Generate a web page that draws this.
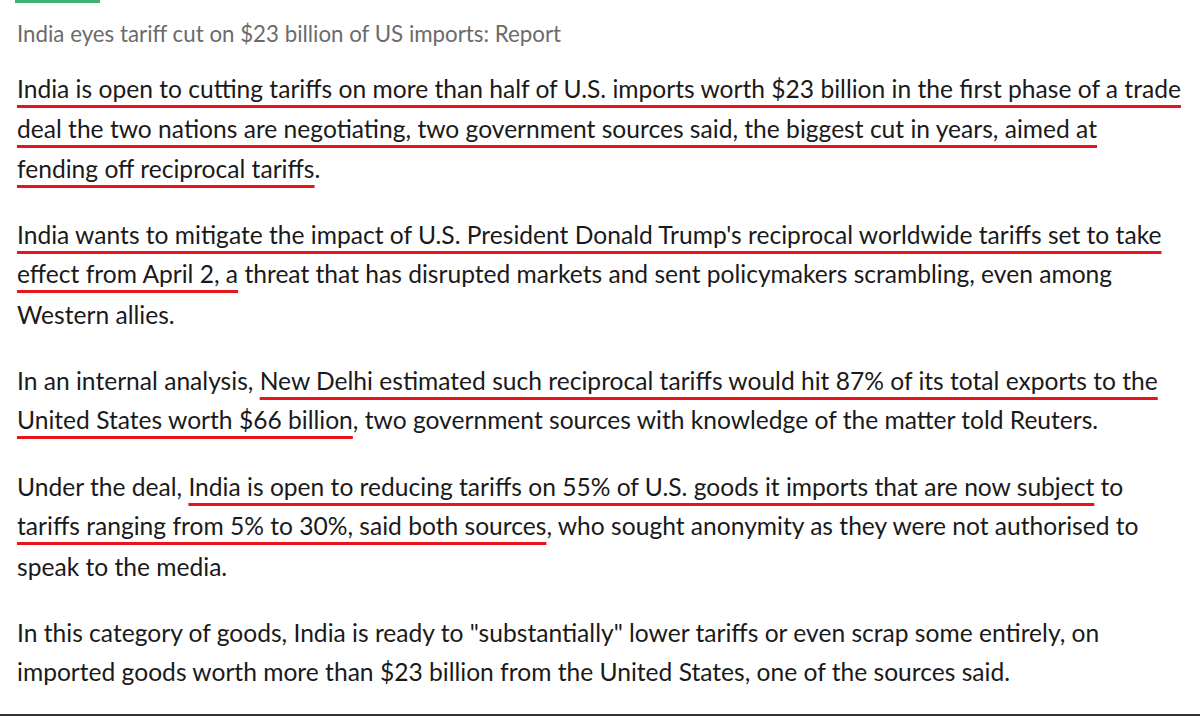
<!DOCTYPE html>
<html><head><meta charset="utf-8">
<script src="https://cdn.jsdelivr.net/npm/chart.js@4"></script>
<style>
html,body{margin:0;padding:0;background:#fff;width:1200px;height:718px;overflow:hidden;font-family:Lato,"Open Sans",sans-serif;}
.l{position:absolute;left:17px;white-space:nowrap;font-size:24.6px;color:#1a1a1a;line-height:30px;}
.t{position:absolute;left:17px;top:20px;font-size:22.3px;color:#6b6b6b;white-space:nowrap;}
.u{text-decoration:underline;text-decoration-color:#e8141c;text-decoration-thickness:3px;text-underline-offset:7px;text-decoration-skip-ink:none;}
#g{position:absolute;left:15px;top:0;width:85px;height:3px;background:#3cb371;}
#b{position:absolute;left:0;top:714px;width:1200px;height:2px;background:#333;}
</style></head><body>
<div id="g"></div>
<div class="t">India eyes tariff cut on $23 billion of US imports: Report</div>
<div id="text"></div>
<div id="b"></div>
<script>
const lines = [
 [74, '<span class="u">India is open to cutting tariffs on more than half of U.S. imports worth $23 billion in the first phase of a trade</span>'],
 [114, '<span class="u">deal the two nations are negotiating, two government sources said, the biggest cut in years, aimed at</span>'],
 [154, '<span class="u">fending off reciprocal tariffs</span>.'],
 [220, '<span class="u">India wants to mitigate the impact of U.S. President Donald Trump\'s reciprocal worldwide tariffs set to take</span>'],
 [259, '<span class="u">effect from April 2, a</span> threat that has disrupted markets and sent policymakers scrambling, even among'],
 [300, 'Western allies.'],
 [366, 'In an internal analysis, <span class="u">New Delhi estimated such reciprocal tariffs would hit 87% of its total exports to the</span>'],
 [405, '<span class="u">United States worth $66 billion</span>, two government sources with knowledge of the matter told Reuters.'],
 [472, 'Under the deal, <span class="u">India is open to reducing tariffs on 55% of U.S. goods it imports that are now subject</span> to'],
 [511, '<span class="u">tariffs ranging from 5% to 30%, said both sources</span>, who sought anonymity as they were not authorised to'],
 [552, 'speak to the media.'],
 [618, 'In this category of goods, India is ready to "substantially" lower tariffs or even scrap some entirely, on'],
 [657, 'imported goods worth more than $23 billion from the United States, one of the sources said.']
];
const c=document.getElementById('text');
lines.forEach(([y,h])=>{const d=document.createElement('div');d.className='l';d.style.top=y+'px';d.innerHTML=h;c.appendChild(d);});
</script>
</body></html>
